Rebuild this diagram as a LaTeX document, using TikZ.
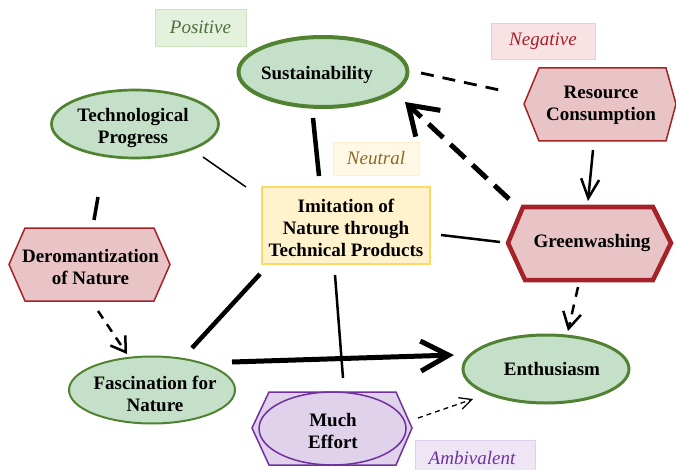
\documentclass[tikz,border=0pt]{standalone}
\usepackage{fontspec}
\setmainfont{Liberation Serif}
\usetikzlibrary{arrows.meta,shapes.geometric}
\definecolor{gfill}{RGB}{197,224,200}
\definecolor{gline}{RGB}{80,130,50}
\definecolor{rfill}{RGB}{232,196,198}
\definecolor{rline}{RGB}{165,35,40}
\definecolor{yfill}{RGB}{255,242,204}
\definecolor{yline}{RGB}{255,217,102}
\definecolor{pfill}{RGB}{224,210,234}
\definecolor{pline}{RGB}{112,48,160}
\definecolor{posfill}{RGB}{228,241,220}
\definecolor{posline}{RGB}{205,228,192}
\definecolor{postext}{RGB}{78,110,58}
\definecolor{negfill}{RGB}{249,226,227}
\definecolor{negline}{RGB}{240,202,204}
\definecolor{negtext}{RGB}{165,30,40}
\definecolor{neufill}{RGB}{255,248,228}
\definecolor{neuline}{RGB}{255,238,205}
\definecolor{neutext}{RGB}{140,105,40}
\definecolor{ambfill}{RGB}{238,230,245}
\definecolor{ambline}{RGB}{222,208,234}
\definecolor{ambtext}{RGB}{112,48,160}
\begin{document}
\begin{tikzpicture}[x=1pt,y=-1pt,
  txt/.style={font=\fontsize{19}{22}\selectfont\bfseries, align=center, text=black, inner sep=0pt},
  ell/.style={ellipse, draw=gline, fill=gfill, inner sep=0pt},
  hexneg/.style={draw=rline, fill=rfill, line join=miter},
  lab/.style={draw, inner sep=0pt, font=\fontsize{19}{20}\selectfont\itshape},
  conn/.style={draw=black, line cap=butt},
]
\useasboundingbox (0,0) rectangle (676,470);

% category labels
\node[lab, fill=posfill, draw=posline, text=postext, minimum width=91, minimum height=37] (lpos) at (200.5,27.5) {Positive};
\node[lab, fill=negfill, draw=negline, text=negtext, minimum width=104, minimum height=36] (lneg) at (543,41) {Negative};
\node[lab, fill=neufill, draw=neuline, text=neutext, minimum width=86, minimum height=33] (lneu) at (376,158.5) {Neutral};
\node[lab, fill=ambfill, draw=ambline, text=ambtext, minimum width=120, minimum height=40, anchor=north] (lamb) at (475,440) {};
\node[font=\fontsize{19}{20}\selectfont\itshape, text=ambtext, inner sep=0pt] (lambT) at (472,458) {Ambivalent};

% green ellipses
\node[ell, line width=4pt, minimum width=169, minimum height=70] (sus) at (323,72) {};
\node[txt] (susT) at (317,75) {Sustainability};
\node[ell, line width=2.7pt, minimum width=167, minimum height=68] (tec) at (135,124) {};
\node[txt] (tecT) at (133,128) {Technological\\Progress};
\node[ell, line width=3pt, minimum width=166, minimum height=68] (ent) at (546,369) {};
\node[txt] (entT) at (552,369) {Enthusiasm};
\node[ell, line width=2pt, minimum width=166, minimum height=67] (fas) at (152,390) {};
\node[txt] (fasT) at (155,394) {Fascination for\\Nature};

% central box
\node[draw=yline, fill=yfill, line width=2pt, minimum width=168, minimum height=77] (imi) at (346,225.5) {};
\node[txt] (imiT) at (346,228) {Imitation of\\Nature through\\Technical Products};

% red hexagons
\draw[hexneg, line width=1.5pt] (524,104) -- (539,68) -- (666,68) -- (676,104) -- (666,141) -- (539,141) -- cycle;
\node[txt] (res) at (601,105) {Resource\\Consumption};
\draw[hexneg, line width=4.5pt] (508,243) -- (523,207) -- (653,207) -- (671,243) -- (653,280) -- (525,280) -- cycle;
\node[txt] (gre) at (592,243) {Greenwashing};
\draw[hexneg, line width=1.5pt] (9,264.5) -- (25,228) -- (154,228) -- (170,264.5) -- (154,301) -- (25,301) -- cycle;
\node[txt] (der) at (90.5,267) {Deromantization\\of Nature};

% purple shape
\draw[draw=pline, fill=pfill, line width=1.5pt] (252,428) -- (269,392) -- (396,392) -- (412,428) -- (396,465) -- (269,465) -- cycle;
\node[ellipse, draw=pline, fill=pfill, line width=1.5pt, minimum width=147, minimum height=73, inner sep=0pt] (muc) at (332.5,428.5) {};
\node[txt] (mucT) at (333,431) {Much\\Effort};

% connector end points
\coordinate (c1a) at (203,157); \coordinate (c1b) at (246,187);
\coordinate (c2a) at (313,118); \coordinate (c2b) at (319,176);
\coordinate (c3a) at (421,73);  \coordinate (c3b) at (504,91);
\coordinate (c4a) at (593,150); \coordinate (c4b) at (588,201);
\coordinate (c5a) at (509,199); \coordinate (c5b) at (405,102);
\coordinate (c6a) at (441,235); \coordinate (c6b) at (500,242);
\coordinate (c7a) at (578,287); \coordinate (c7b) at (568,331);
\coordinate (c8a) at (232,362); \coordinate (c8b) at (454,355);
\coordinate (c9a) at (260,274); \coordinate (c9b) at (192,348);
\coordinate (c10a) at (335,275); \coordinate (c10b) at (343,378);
\coordinate (c11a) at (98,197); \coordinate (c11b) at (94,220);
\coordinate (c12a) at (98,311); \coordinate (c12b) at (127,354);
\coordinate (c13a) at (418,418); \coordinate (c13b) at (473,399);

% connectors
\draw[conn, line width=1.5pt] (c1a) -- (c1b);
\draw[conn, line width=4.5pt] (c2a) -- (c2b);
\draw[conn, line width=2.8pt, dash pattern=on 13pt off 9pt] (c3a) -- (c3b);
\draw[conn, line width=2.5pt, -{Straight Barb[length=19pt,width=18pt]}] (c4a) -- (c4b);
\draw[conn, line width=5pt, dash pattern=on 20pt off 10pt, -{Straight Barb[length=27pt,width=36pt]}] (c5a) -- (c5b);
\draw[conn, line width=2.5pt] (c6a) -- (c6b);
\draw[conn, line width=2.5pt, dash pattern=on 10pt off 8pt, -{Straight Barb[length=16pt,width=18pt]}] (c7a) -- (c7b);
\draw[conn, line width=5pt, -{Straight Barb[length=28pt,width=30pt]}] (c8a) -- (c8b);
\draw[conn, line width=4.5pt] (c9a) -- (c9b);
\draw[conn, line width=2.5pt] (c10a) -- (c10b);
\draw[conn, line width=3.5pt] (c11a) -- (c11b);
\draw[conn, line width=2.5pt, dash pattern=on 9pt off 7pt, -{Straight Barb[length=14pt,width=18pt]}] (c12a) -- (c12b);
\draw[conn, line width=1.3pt, dash pattern=on 5pt off 4pt, -{Straight Barb[length=12pt,width=12pt]}] (c13a) -- (c13b);
\end{tikzpicture}
\end{document}
